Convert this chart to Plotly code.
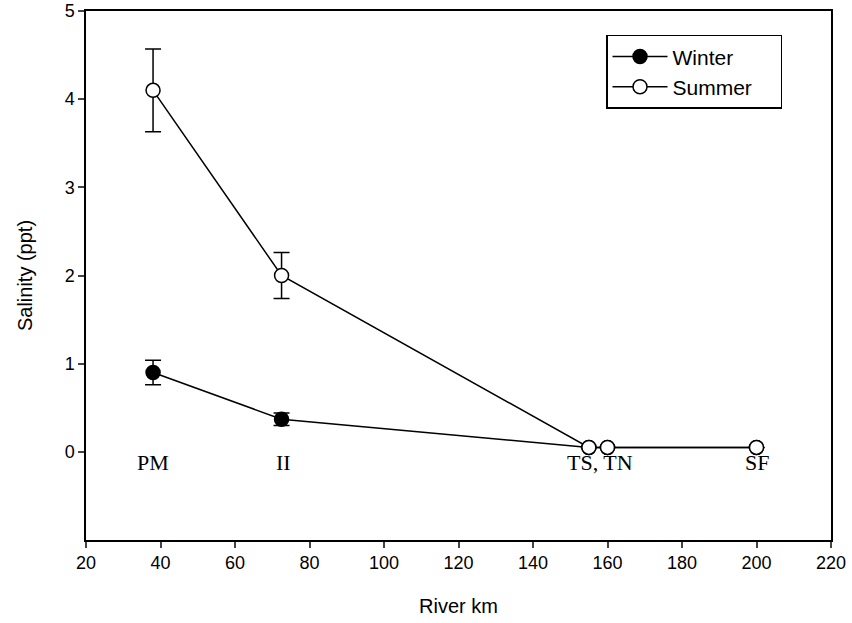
import plotly.graph_objects as go

# Data
winter_km = [38, 72.5, 155, 160, 200]
winter_sal = [0.9, 0.37, 0.05, 0.05, 0.05]
winter_err = [0.14, 0.07, 0.0, 0.0, 0.0]

summer_km = [38, 72.5, 155, 160, 200]
summer_sal = [4.1, 2.0, 0.05, 0.05, 0.05]
summer_err = [0.47, 0.26, 0.0, 0.0, 0.0]

series_names = ["Winter", "Summer"]

site_labels = ["PM", "II", "TS, TN", "SF"]
site_km = [38, 73, 158, 200]
site_y = [-0.12, -0.12, -0.12, -0.12]

x_ticks = [20, 40, 60, 80, 100, 120, 140, 160, 180, 200, 220]
y_ticks = [0, 1, 2, 3, 4, 5]

pad = "\u00a0" * 4  # right padding inside the legend box

fig = go.Figure()
fig.add_trace(go.Scatter(
    x=winter_km, y=winter_sal, name=series_names[0] + pad, mode="lines+markers",
    line=dict(color="black", width=1.5),
    marker=dict(symbol="circle", size=14, color="black", line=dict(color="black", width=1.5)),
    error_y=dict(type="data", array=winter_err, visible=True, color="black", thickness=1.5, width=8),
))
fig.add_trace(go.Scatter(
    x=summer_km, y=summer_sal, name=series_names[1] + pad, mode="lines+markers",
    line=dict(color="black", width=1.5),
    marker=dict(symbol="circle", size=14, color="white", line=dict(color="black", width=1.5)),
    error_y=dict(type="data", array=summer_err, visible=True, color="black", thickness=1.5, width=8),
))

for lab, xk, yk in zip(site_labels, site_km, site_y):
    fig.add_annotation(x=xk, y=yk, text=lab, showarrow=False,
                       font=dict(family="Liberation Serif", size=22, color="black"),
                       xanchor="center", yanchor="middle")

fig.update_layout(
    width=852, height=623,
    margin=dict(l=86, r=21, t=11, b=83, autoexpand=False),
    paper_bgcolor="white", plot_bgcolor="white",
    font=dict(family="Liberation Sans", size=18, color="black"),
    showlegend=True,
    legend=dict(x=0.698, y=0.955, xanchor="left", yanchor="top",
                bordercolor="black", borderwidth=1.5, bgcolor="white",
                font=dict(family="Liberation Sans", size=21), itemwidth=55,
                tracegroupgap=0),
)
fig.update_xaxes(range=[20, 220], tickvals=x_ticks, ticks="outside", ticklen=6,
                 tickwidth=1.5, showline=True, linecolor="black", linewidth=1.5,
                 mirror=True, showgrid=False, zeroline=False, automargin=False,
                 title=dict(text="River km", font=dict(size=20), standoff=27))
fig.update_yaxes(range=[-1, 5], tickvals=y_ticks, ticks="outside", ticklen=6,
                 tickwidth=1.5, showline=True, linecolor="black", linewidth=1.5,
                 mirror=True, showgrid=False, zeroline=False, automargin=False,
                 title=dict(text="Salinity (ppt)", font=dict(size=20), standoff=27))

fig.write_html("out.html")
